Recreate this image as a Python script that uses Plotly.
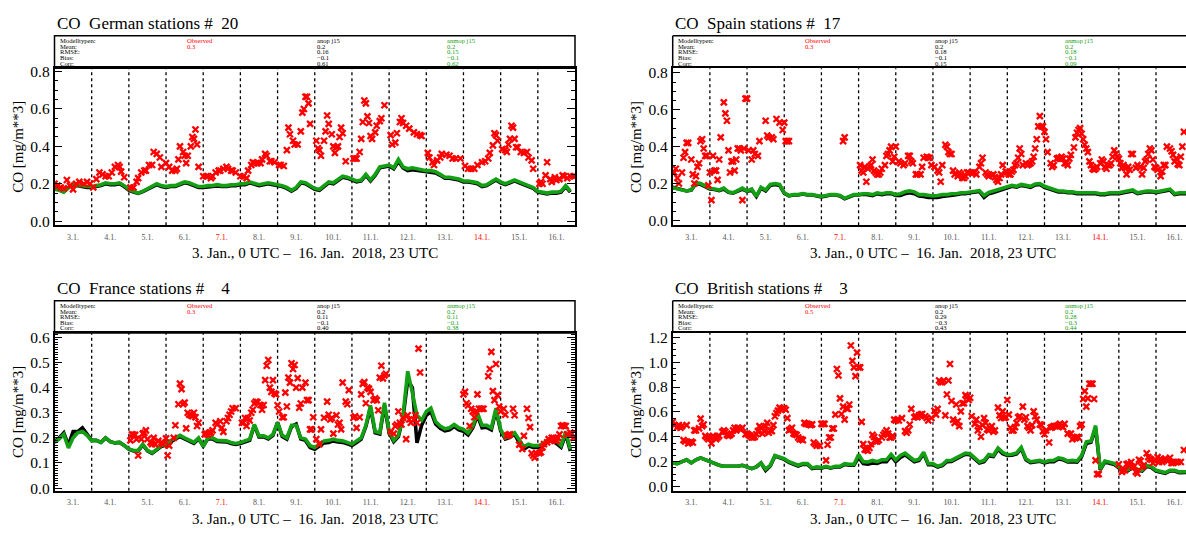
import plotly.graph_objects as go

W, H = 1186, 533
HOURS3 = list(range(0, 336, 3))
DAY_LABELS = [f"{d}.1." for d in range(3, 17)]
SUNDAY_LABELS = ["7.1.", "14.1."]
XTITLE = "3. Jan., 0 UTC \u2013\u00a0 16. Jan.\u00a0 2018, 23 UTC"
YTITLE = "CO [mg/m**3]"
STAT_ROWS = ["Modelltypen:", "Mean:", "RMSE:", "Bias:", "Corr:"]
MODEL_NAMES = ["Observed", "anop j15", "anmop j15"]

# ---------------- German stations ----------------
de_title = "CO\u00a0\u00a0German stations #\u00a0\u00a020"
de_stats_obs = ["0.3"]
de_stats_anop = ["0.2", "0.16", "\u22120.1", "0.61"]
de_stats_anmop = ["0.2", "0.15", "\u22120.1", "0.62"]
de_obs = [
    (0,0.20),(2,0.19),(4,0.18),(6,0.175),(8,0.22),(10,0.19),(12,0.17),(14,0.20),(16,0.21),(19,0.20),(21,0.21),(23,0.20),
    (25,0.18),(27,0.225),(29,0.26),(31,0.25),(33,0.24),(35,0.24),(37,0.26),(39,0.29),(41,0.30),(42,0.29),(43,0.265),(45,0.235),
    (49,0.18),(51,0.18),(53,0.21),(54,0.23),(56,0.26),(58,0.27),(59,0.27),(61,0.30),(63,0.30),(64,0.37),(66,0.36),(68,0.34),(69,0.29),
    (72,0.31),(74,0.29),(76,0.27),(78,0.27),(79,0.28),(80,0.33),(81,0.40),(83,0.37),(84,0.35),(85,0.31),(86,0.35),(88,0.40),(89,0.45),(90,0.44),(91,0.49),(92,0.41),(93,0.29),
    (96,0.24),(98,0.24),(99,0.24),(101,0.23),(102,0.24),(104,0.26),(106,0.27),(107,0.27),(109,0.28),(111,0.29),(112,0.28),(114,0.27),(115,0.27),(117,0.26),
    (120,0.24),(122,0.24),(124,0.23),(125,0.27),(127,0.30),(128,0.315),(129,0.31),(131,0.31),(133,0.31),(134,0.33),(136,0.36),(137,0.35),(139,0.32),(140,0.32),(142,0.315),
    (145,0.30),(146,0.30),(148,0.295),(150,0.38),(151,0.50),(152,0.465),(154,0.43),(155,0.41),(157,0.41),(159,0.48),(160,0.58),(161,0.60),(162,0.665),(163,0.665),(164,0.63),(165,0.52),
    (169,0.43),(170,0.39),(171,0.38),(172,0.35),(174,0.43),(175,0.48),(176,0.565),(177,0.52),(179,0.465),(180,0.40),(181,0.365),(182,0.395),(183,0.40),(184,0.45),(185,0.50),(186,0.47),(188,0.32),
    (193,0.335),(194,0.335),(195,0.335),(197,0.37),(198,0.44),(199,0.53),(200,0.645),(201,0.63),(202,0.56),(203,0.525),(204,0.455),(205,0.44),(207,0.475),(208,0.51),(210,0.535),(211,0.55),(213,0.62),
    (217,0.46),(218,0.41),(220,0.42),(221,0.47),(223,0.53),(224,0.55),(225,0.525),(227,0.51),(229,0.495),(232,0.475),(234,0.465),(236,0.46),(237,0.455),
    (241,0.365),(242,0.34),(244,0.315),(245,0.30),(247,0.325),(249,0.34),(250,0.36),(253,0.355),(255,0.35),(257,0.335),(259,0.335),(262,0.335),
    (265,0.295),(267,0.28),(269,0.28),(271,0.28),(273,0.30),(276,0.315),(278,0.32),(280,0.335),(281,0.365),(283,0.405),(284,0.47),(285,0.46),(286,0.43),
    (289,0.385),(291,0.38),(292,0.37),(293,0.41),(294,0.44),(295,0.51),(296,0.50),(297,0.44),(298,0.395),(299,0.395),(301,0.37),(303,0.365),(305,0.37),(306,0.34),(308,0.325),(309,0.28),
    (313,0.20),(314,0.21),(315,0.20),(317,0.245),(318,0.315),(320,0.225),(321,0.21),(323,0.235),(324,0.22),(326,0.225),(328,0.245),(329,0.24),(331,0.23),(333,0.24),(335,0.24),
]
de_anmop = [
    0.17, 0.165, 0.155, 0.18, 0.20, 0.19, 0.19, 0.185,
    0.185, 0.19, 0.195, 0.205, 0.20, 0.20, 0.205, 0.19,
    0.17, 0.16, 0.15, 0.16, 0.175, 0.19, 0.20, 0.19,
    0.185, 0.19, 0.19, 0.20, 0.21, 0.205, 0.195, 0.185,
    0.185, 0.19, 0.19, 0.195, 0.19, 0.19, 0.195, 0.195,
    0.20, 0.20, 0.21, 0.20, 0.195, 0.20, 0.205, 0.20,
    0.195, 0.19, 0.18, 0.165, 0.18, 0.21, 0.205, 0.19,
    0.175, 0.17, 0.19, 0.21, 0.205, 0.22, 0.24, 0.235,
    0.225, 0.215, 0.22, 0.25, 0.22, 0.25, 0.29, 0.295,
    0.30, 0.285, 0.33, 0.29, 0.28, 0.285, 0.28, 0.275,
    0.27, 0.27, 0.265, 0.25, 0.235, 0.235, 0.23, 0.225,
    0.215, 0.215, 0.21, 0.205, 0.19, 0.195, 0.21, 0.225,
    0.21, 0.20, 0.21, 0.22, 0.21, 0.20, 0.195, 0.18,
    0.16, 0.155, 0.15, 0.155, 0.155, 0.16, 0.19, 0.16,
]
de_anop = [
    0.18, 0.17, 0.16, 0.18, 0.195, 0.19, 0.185, 0.18,
    0.18, 0.185, 0.19, 0.20, 0.195, 0.195, 0.20, 0.185,
    0.165, 0.155, 0.148, 0.158, 0.17, 0.185, 0.195, 0.185,
    0.18, 0.185, 0.185, 0.195, 0.205, 0.20, 0.19, 0.18,
    0.18, 0.182, 0.183, 0.188, 0.185, 0.185, 0.19, 0.19,
    0.195, 0.195, 0.205, 0.195, 0.19, 0.195, 0.20, 0.195,
    0.19, 0.185, 0.175, 0.16, 0.175, 0.205, 0.20, 0.185,
    0.17, 0.165, 0.185, 0.205, 0.20, 0.215, 0.235, 0.23,
    0.22, 0.21, 0.215, 0.245, 0.215, 0.245, 0.285, 0.29,
    0.295, 0.28, 0.32, 0.285, 0.27, 0.275, 0.272, 0.268,
    0.265, 0.262, 0.258, 0.245, 0.23, 0.23, 0.225, 0.22,
    0.21, 0.21, 0.205, 0.20, 0.185, 0.19, 0.205, 0.22,
    0.205, 0.195, 0.205, 0.215, 0.205, 0.195, 0.19, 0.175,
    0.155, 0.15, 0.145, 0.15, 0.15, 0.155, 0.185, 0.155,
]

# ---------------- Spain stations ----------------
es_title = "CO\u00a0\u00a0Spain stations #\u00a0\u00a017"
es_stats_obs = ["0.3"]
es_stats_anop = ["0.2", "0.18", "\u22120.1", "0.15"]
es_stats_anmop = ["0.2", "0.18", "\u22120.1", "0.09"]
es_obs = [
    (1,0.26),(2,0.28),(3,0.23),(4,0.20),(6,0.26),(7,0.34),(8,0.37),(9,0.42),(10,0.42),(12,0.33),(13,0.25),(14,0.20),(15,0.24),(16,0.29),(17,0.31),(18,0.43),(19,0.44),(20,0.39),(21,0.35),(22,0.35),(23,0.19),
    (24,0.26),(25,0.11),(26,0.35),(27,0.27),(28,0.27),(29,0.22),(30,0.33),(31,0.45),(33,0.64),(34,0.58),(35,0.54),(36,0.38),(37,0.26),(38,0.32),(39,0.32),(40,0.27),(41,0.33),(42,0.39),(43,0.39),(44,0.38),(45,0.11),(46,0.39),(47,0.66),
    (48,0.66),(49,0.38),(51,0.33),(52,0.38),(53,0.36),(55,0.35),(56,0.43),(60,0.54),(61,0.46),(62,0.45),(64,0.45),(65,0.44),(67,0.55),(69,0.53),(71,0.49),
    (72,0.53),(73,0.43),(74,0.43),(75,0.43),
    (110,0.43),(111,0.45),
    (121,0.30),(122,0.27),(123,0.26),(124,0.29),(125,0.21),(126,0.28),(127,0.29),(128,0.30),(129,0.33),(130,0.27),(131,0.26),(132,0.25),(133,0.25),(134,0.26),(135,0.28),(137,0.30),(138,0.35),(139,0.36),(140,0.38),(141,0.40),(142,0.32),(143,0.345),
    (144,0.40),(146,0.32),(147,0.31),(149,0.30),(150,0.31),(152,0.35),(153,0.35),(154,0.32),(155,0.31),(157,0.25),(158,0.25),(160,0.25),(161,0.29),(162,0.34),(164,0.345),(165,0.34),(166,0.34),(167,0.30),
    (169,0.29),(171,0.27),(172,0.26),(173,0.21),(174,0.30),(176,0.41),(177,0.40),(178,0.37),(179,0.36),(180,0.36),(181,0.27),(182,0.25),(184,0.24),(185,0.26),(186,0.25),(187,0.23),(188,0.23),(189,0.24),(190,0.26),(191,0.26),
    (193,0.26),(194,0.26),(195,0.26),(196,0.25),(198,0.29),(199,0.31),(200,0.34),(202,0.26),(203,0.25),(204,0.24),(206,0.245),(207,0.25),(208,0.235),(209,0.22),(210,0.21),(211,0.23),(212,0.25),(213,0.30),(215,0.265),
    (216,0.26),(217,0.25),(218,0.25),(219,0.265),(220,0.275),(221,0.30),(222,0.31),(223,0.34),(224,0.39),(225,0.36),(226,0.30),(228,0.31),(229,0.30),(230,0.305),(231,0.31),(232,0.32),(233,0.345),(234,0.39),(235,0.44),(236,0.51),(237,0.565),(238,0.51),(239,0.51),
    (240,0.48),(241,0.44),(242,0.37),(244,0.31),(245,0.29),(246,0.30),(248,0.335),(249,0.34),(250,0.335),(251,0.345),(252,0.335),(253,0.31),(254,0.31),(255,0.30),(256,0.335),(257,0.355),(259,0.395),(260,0.45),(261,0.475),(262,0.49),(263,0.50),
    (264,0.47),(265,0.44),(266,0.41),(267,0.39),(268,0.37),(269,0.32),(270,0.30),(271,0.28),(272,0.275),(273,0.28),(274,0.29),(276,0.31),(277,0.33),(278,0.32),(279,0.29),(280,0.28),(281,0.30),(282,0.30),(283,0.31),(284,0.345),(285,0.38),(286,0.36),(287,0.345),
    (288,0.335),(289,0.31),(290,0.285),(291,0.30),(292,0.285),(293,0.25),(294,0.29),(295,0.275),(296,0.36),(297,0.36),(299,0.285),(300,0.30),(302,0.29),(303,0.25),(304,0.285),(305,0.32),(306,0.33),(307,0.36),(308,0.39),(309,0.38),(310,0.33),(311,0.29),
    (312,0.285),(313,0.275),(315,0.24),(316,0.265),(317,0.30),(318,0.30),(319,0.40),(321,0.39),(322,0.375),(323,0.355),(324,0.32),(325,0.335),(326,0.305),(327,0.30),(328,0.345),(329,0.40),(330,0.48),
]
es_anmop = [
    0.177, 0.17, 0.165, 0.16, 0.165, 0.205, 0.20, 0.185,
    0.175, 0.17, 0.165, 0.175, 0.155, 0.15, 0.165, 0.175,
    0.16, 0.17, 0.13, 0.18, 0.165, 0.195, 0.20, 0.195,
    0.15, 0.135, 0.14, 0.14, 0.145, 0.14, 0.14, 0.135,
    0.13, 0.135, 0.14, 0.14, 0.135, 0.12, 0.13, 0.14,
    0.14, 0.145, 0.145, 0.14, 0.15, 0.145, 0.15, 0.15,
    0.14, 0.145, 0.155, 0.16, 0.155, 0.14, 0.14, 0.135,
    0.133, 0.135, 0.14, 0.14, 0.145, 0.145, 0.15, 0.15,
    0.155, 0.16, 0.162, 0.135, 0.152, 0.16, 0.168, 0.172,
    0.18, 0.19, 0.185, 0.195, 0.19, 0.185, 0.198, 0.20,
    0.185, 0.175, 0.165, 0.16, 0.16, 0.155, 0.155, 0.15,
    0.15, 0.15, 0.148, 0.15, 0.145, 0.145, 0.15, 0.15,
    0.15, 0.155, 0.16, 0.165, 0.15, 0.155, 0.16, 0.16,
    0.155, 0.16, 0.165, 0.17, 0.145, 0.15, 0.15, 0.15,
]
es_anop = [
    0.18, 0.172, 0.165, 0.16, 0.165, 0.20, 0.195, 0.18,
    0.17, 0.168, 0.162, 0.17, 0.152, 0.148, 0.16, 0.17,
    0.158, 0.165, 0.13, 0.175, 0.16, 0.19, 0.195, 0.19,
    0.148, 0.133, 0.138, 0.138, 0.143, 0.138, 0.138, 0.133,
    0.128, 0.133, 0.138, 0.138, 0.133, 0.118, 0.128, 0.138,
    0.138, 0.142, 0.14, 0.135, 0.145, 0.14, 0.145, 0.145,
    0.135, 0.135, 0.145, 0.15, 0.145, 0.132, 0.13, 0.125,
    0.125, 0.125, 0.13, 0.132, 0.138, 0.14, 0.145, 0.145,
    0.15, 0.155, 0.157, 0.125, 0.145, 0.152, 0.16, 0.165,
    0.175, 0.185, 0.18, 0.19, 0.185, 0.18, 0.193, 0.195,
    0.18, 0.17, 0.16, 0.155, 0.155, 0.15, 0.15, 0.145,
    0.145, 0.145, 0.143, 0.145, 0.14, 0.14, 0.145, 0.145,
    0.145, 0.15, 0.155, 0.16, 0.145, 0.15, 0.155, 0.155,
    0.15, 0.155, 0.16, 0.165, 0.14, 0.145, 0.145, 0.145,
]

# ---------------- France stations ----------------
fr_title = "CO\u00a0\u00a0France stations #\u00a0\u00a0\u00a0\u00a04"
fr_stats_obs = ["0.3"]
fr_stats_anop = ["0.2", "0.11", "\u22120.1", "0.40"]
fr_stats_anmop = ["0.2", "0.11", "\u22120.1", "0.38"]
fr_obs = [
    (49,0.19),(50,0.214),(51,0.212),(52,0.212),(53,0.195),(54,0.13),(56,0.195),(57,0.217),(58,0.22),(59,0.23),(60,0.195),(62,0.182),(63,0.175),(64,0.20),(65,0.175),(67,0.188),(69,0.182),(70,0.175),
    (72,0.198),(73,0.13),(74,0.169),(77,0.20),(78,0.25),(80,0.334),(81,0.416),(82,0.394),(83,0.334),(84,0.34),(85,0.238),(86,0.30),(87,0.292),(88,0.29),(89,0.286),(90,0.30),(91,0.282),(92,0.247),(93,0.26),
    (97,0.214),(98,0.216),(99,0.214),(100,0.221),(101,0.221),(102,0.23),(104,0.26),(105,0.253),(107,0.266),(108,0.24),(109,0.224),(111,0.266),(112,0.279),(113,0.292),(114,0.305),(115,0.318),(117,0.318),
    (121,0.26),(122,0.26),(123,0.279),(124,0.247),(125,0.279),(126,0.269),(127,0.30),(128,0.312),(129,0.337),(130,0.344),(131,0.342),(133,0.331),(134,0.312),(135,0.331),(136,0.43),(137,0.487),(138,0.51),(139,0.40),(140,0.383),(141,0.43),(142,0.377),(143,0.373),
    (144,0.33),(145,0.305),(147,0.282),(148,0.282),(149,0.38),(150,0.325),(151,0.44),(152,0.42),(153,0.497),(154,0.474),(155,0.49),(156,0.40),(157,0.438),(158,0.32),(159,0.337),(160,0.40),(162,0.42),(163,0.35),(164,0.35),(165,0.234),(166,0.234),(167,0.282),
    (169,0.195),(171,0.175),(172,0.234),(174,0.28),(176,0.344),(177,0.292),(178,0.273),(179,0.279),(180,0.217),(182,0.29),(183,0.253),(184,0.26),(185,0.234),(186,0.42),(188,0.344),(189,0.334),(190,0.39),
    (193,0.28),(194,0.286),(195,0.24),(197,0.282),(198,0.373),(199,0.415),(200,0.422),(201,0.338),(202,0.40),(203,0.395),(204,0.383),(206,0.35),(207,0.357),(208,0.35),(209,0.31),(210,0.44),(211,0.487),(212,0.437),(213,0.448),(214,0.455),
    (217,0.225),(219,0.217),(220,0.246),(221,0.253),(222,0.305),(223,0.26),(224,0.253),(225,0.28),(227,0.195),(228,0.29),(229,0.273),(230,0.26),(232,0.273),(233,0.29),(234,0.26),(235,0.555),(236,0.46),
    (264,0.373),(265,0.383),(266,0.338),(267,0.329),(268,0.247),(269,0.316),(270,0.305),(271,0.282),(272,0.305),(273,0.373),(274,0.316),(275,0.316),(276,0.316),(277,0.316),(280,0.445),(281,0.474),(282,0.542),(283,0.386),(284,0.35),(285,0.494),(286,0.37),(287,0.325),
    (288,0.305),(290,0.316),(291,0.292),(292,0.208),(293,0.212),(294,0.214),(296,0.316),(297,0.29),(300,0.173),(302,0.156),(303,0.208),(305,0.316),(306,0.279),(307,0.243),(308,0.139),(309,0.13),(310,0.121),(311,0.139),
    (313,0.139),(314,0.143),(315,0.162),(316,0.175),(318,0.182),(319,0.195),(320,0.188),(321,0.20),(322,0.20),(323,0.195),(324,0.188),(325,0.20),(326,0.214),(327,0.247),(328,0.25),(329,0.247),(330,0.247),(331,0.214),(333,0.221),(334,0.217),(335,0.20),
]
fr_anmop = [
    0.182, 0.195, 0.214, 0.16, 0.20, 0.22, 0.225, 0.21,
    0.188, 0.19, 0.182, 0.20, 0.185, 0.18, 0.182, 0.17,
    0.156, 0.15, 0.15, 0.175, 0.15, 0.14, 0.156, 0.169,
    0.175, 0.19, 0.20, 0.21, 0.20, 0.19, 0.182, 0.20,
    0.165, 0.20, 0.20, 0.19, 0.19, 0.188, 0.182, 0.178,
    0.182, 0.188, 0.195, 0.253, 0.208, 0.208, 0.20, 0.214,
    0.26, 0.21, 0.20, 0.25, 0.25, 0.20, 0.195, 0.169,
    0.162, 0.175, 0.188, 0.19, 0.195, 0.19, 0.188, 0.182,
    0.175, 0.188, 0.20, 0.25, 0.33, 0.225, 0.22, 0.34,
    0.227, 0.19, 0.21, 0.29, 0.465, 0.38, 0.29, 0.27,
    0.305, 0.318, 0.265, 0.247, 0.236, 0.24, 0.253, 0.24,
    0.234, 0.22, 0.247, 0.30, 0.25, 0.25, 0.24, 0.318,
    0.234, 0.20, 0.208, 0.22, 0.19, 0.165, 0.175, 0.169,
    0.169, 0.175, 0.19, 0.20, 0.188, 0.17, 0.225, 0.155,
]
fr_anop = [
    0.185, 0.20, 0.22, 0.17, 0.225, 0.225, 0.24, 0.215,
    0.19, 0.19, 0.182, 0.20, 0.185, 0.18, 0.182, 0.17,
    0.155, 0.148, 0.148, 0.172, 0.148, 0.138, 0.153, 0.166,
    0.172, 0.186, 0.196, 0.205, 0.196, 0.186, 0.178, 0.196,
    0.168, 0.196, 0.196, 0.186, 0.186, 0.184, 0.178, 0.174,
    0.178, 0.184, 0.19, 0.25, 0.204, 0.204, 0.196, 0.21,
    0.262, 0.205, 0.195, 0.245, 0.255, 0.195, 0.19, 0.162,
    0.155, 0.168, 0.18, 0.182, 0.188, 0.184, 0.182, 0.176,
    0.17, 0.182, 0.195, 0.245, 0.32, 0.22, 0.215, 0.33,
    0.22, 0.185, 0.205, 0.28, 0.43, 0.40, 0.18, 0.25,
    0.29, 0.305, 0.255, 0.238, 0.228, 0.232, 0.245, 0.232,
    0.226, 0.212, 0.24, 0.29, 0.24, 0.242, 0.232, 0.31,
    0.228, 0.195, 0.202, 0.215, 0.18, 0.155, 0.168, 0.162,
    0.162, 0.168, 0.183, 0.193, 0.18, 0.163, 0.215, 0.148,
]

# ---------------- British stations ----------------
gb_title = "CO\u00a0\u00a0British stations #\u00a0\u00a0\u00a0\u00a03"
gb_stats_obs = ["0.5"]
gb_stats_anop = ["0.2", "0.29", "\u22120.3", "0.43"]
gb_stats_anmop = ["0.2", "0.28", "\u22120.3", "0.44"]
gb_obs = [
    (0,0.52),(1,0.494),(3,0.478),(4,0.494),(5,0.473),(6,0.486),(7,0.373),(8,0.362),(9,0.494),(10,0.347),(11,0.354),(12,0.362),(13,0.354),(14,0.452),(15,0.452),(17,0.468),(18,0.546),(19,0.486),(20,0.499),(21,0.407),(22,0.394),(23,0.381),
    (24,0.394),(25,0.347),(26,0.407),(27,0.394),(28,0.381),(29,0.394),(30,0.407),(32,0.441),(33,0.452),(34,0.441),(35,0.415),(36,0.407),(37,0.415),(38,0.425),(39,0.452),(40,0.473),(41,0.452),(42,0.473),(43,0.467),(44,0.46),(45,0.473),(47,0.42),
    (48,0.425),(49,0.415),(50,0.407),(51,0.394),(52,0.394),(53,0.399),(54,0.42),(55,0.446),(56,0.486),(57,0.473),(58,0.425),(59,0.446),(60,0.486),(61,0.512),(62,0.433),(63,0.452),(64,0.446),(65,0.494),(66,0.565),(67,0.59),(68,0.61),(69,0.635),(70,0.617),(71,0.63),
    (72,0.63),(73,0.617),(74,0.55),(75,0.452),(76,0.46),(77,0.473),(78,0.425),(79,0.42),(80,0.415),(81,0.394),(82,0.38),(83,0.38),(84,0.373),(85,0.512),(86,0.504),(87,0.504),(88,0.499),(89,0.494),(90,0.50),(91,0.354),(92,0.341),(93,0.328),(95,0.328),
    (96,0.504),(97,0.504),(98,0.504),(99,0.21),(100,0.336),(101,0.394),(102,0.394),(103,0.467),(104,0.467),(105,0.578),(106,0.945),(107,0.893),(108,0.709),(109,0.583),(110,0.643),(111,0.538),(112,0.63),(113,0.625),(114,0.66),(115,1.134),(116,1.011),(117,0.958),(118,0.888),(119,1.077),
    (120,0.958),(121,0.958),(122,0.52),(123,0.341),(124,0.297),(125,0.294),(126,0.289),(127,0.31),(128,0.341),(129,0.415),(130,0.399),(131,0.362),(132,0.362),(133,0.373),(135,0.394),(136,0.415),(137,0.433),(138,0.452),(139,0.425),(140,0.394),(141,0.394),(142,0.407),(143,0.538),
    (144,0.531),(145,0.538),(146,0.531),(148,0.55),(150,0.446),(151,0.433),(152,0.452),(153,0.499),(154,0.625),(156,0.557),(157,0.565),(158,0.557),(159,0.572),(160,0.578),(161,0.583),(163,0.565),(164,0.551),(165,0.531),(167,0.551),
    (169,0.609),(170,0.578),(171,0.625),(172,0.853),(173,0.84),(174,0.84),(175,0.853),(176,0.572),(177,0.74),(178,0.853),(179,0.985),(180,0.688),(181,0.538),(182,0.512),(183,0.66),(184,0.525),(185,0.486),(186,0.604),(187,0.67),(188,0.67),(189,0.735),(190,0.722),(191,0.696),
    (192,0.714),(193,0.565),(195,0.504),(196,0.538),(197,0.452),(198,0.478),(199,0.40),(200,0.494),(201,0.55),(202,0.512),(203,0.46),(204,0.452),(205,0.468),(206,0.486),(207,0.441),(208,0.452),(210,0.635),(211,0.572),(212,0.551),(213,0.604),(214,0.551),(215,0.557),
    (216,0.696),(217,0.578),(218,0.473),(219,0.452),(220,0.452),(221,0.478),(222,0.512),(223,0.557),(224,0.565),(226,0.643),(227,0.538),(228,0.557),(229,0.486),(230,0.473),(231,0.452),(232,0.494),(233,0.604),(234,0.565),(235,0.538),(237,0.499),(238,0.494),(239,0.446),
    (240,0.42),(241,0.452),(243,0.354),(244,0.473),(245,0.478),(246,0.486),(247,0.486),(248,0.486),(249,0.494),(250,0.504),(251,0.486),(252,0.478),(253,0.504),(255,0.425),(257,0.425),(258,0.38),(259,0.394),(260,0.389),(261,0.399),(262,0.394),(263,0.486),
    (264,0.499),(265,0.704),(266,0.767),(267,0.643),(268,0.709),(269,0.827),(270,0.827),(271,0.827),(272,0.704),(273,0.21),(274,0.10),(275,0.10),
    (288,0.179),(290,0.118),(291,0.131),(292,0.131),(293,0.179),(294,0.184),(295,0.171),(296,0.197),(297,0.158),(298,0.163),(299,0.118),(300,0.105),(301,0.215),(302,0.205),(303,0.158),(304,0.171),(306,0.268),(307,0.236),(308,0.223),(309,0.215),(310,0.189),(311,0.21),
    (313,0.236),(314,0.197),(315,0.223),(316,0.197),(317,0.215),(318,0.223),(319,0.21),(320,0.21),(321,0.231),(322,0.189),(323,0.189),(324,0.197),(325,0.197),(326,0.197),(328,0.197),(330,0.294),
]
gb_anmop = [
    0.19, 0.184, 0.20, 0.215, 0.19, 0.215, 0.23, 0.215,
    0.197, 0.189, 0.171, 0.163, 0.163, 0.158, 0.163, 0.171,
    0.158, 0.144, 0.158, 0.189, 0.14, 0.171, 0.25, 0.236,
    0.224, 0.20, 0.184, 0.171, 0.184, 0.184, 0.15, 0.158,
    0.152, 0.163, 0.152, 0.163, 0.163, 0.184, 0.178, 0.178,
    0.257, 0.20, 0.197, 0.21, 0.20, 0.215, 0.215, 0.26,
    0.215, 0.25, 0.268, 0.236, 0.21, 0.22, 0.276, 0.184,
    0.184, 0.163, 0.175, 0.21, 0.21, 0.23, 0.25, 0.268,
    0.263, 0.23, 0.197, 0.21, 0.257, 0.25, 0.31, 0.275,
    0.257, 0.26, 0.27, 0.315, 0.223, 0.20, 0.205, 0.21,
    0.197, 0.21, 0.21, 0.231, 0.223, 0.205, 0.21, 0.205,
    0.25, 0.36, 0.365, 0.49, 0.14, 0.205, 0.195, 0.185,
    0.158, 0.14, 0.136, 0.158, 0.14, 0.131, 0.17, 0.16,
    0.131, 0.118, 0.112, 0.131, 0.131, 0.118, 0.118, 0.12,
]
gb_anop = [
    0.19, 0.184, 0.20, 0.215, 0.19, 0.215, 0.23, 0.215,
    0.197, 0.189, 0.171, 0.163, 0.163, 0.158, 0.163, 0.171,
    0.158, 0.144, 0.158, 0.189, 0.13, 0.165, 0.245, 0.23,
    0.218, 0.195, 0.178, 0.165, 0.178, 0.178, 0.145, 0.152,
    0.148, 0.158, 0.148, 0.158, 0.158, 0.178, 0.172, 0.172,
    0.235, 0.185, 0.18, 0.19, 0.185, 0.20, 0.20, 0.245,
    0.20, 0.235, 0.255, 0.225, 0.20, 0.21, 0.265, 0.175,
    0.176, 0.156, 0.168, 0.20, 0.202, 0.222, 0.242, 0.26,
    0.255, 0.222, 0.19, 0.20, 0.248, 0.242, 0.30, 0.265,
    0.25, 0.252, 0.262, 0.305, 0.215, 0.193, 0.197, 0.203,
    0.19, 0.20, 0.20, 0.222, 0.215, 0.198, 0.20, 0.197,
    0.24, 0.345, 0.355, 0.47, 0.135, 0.198, 0.188, 0.178,
    0.15, 0.133, 0.13, 0.15, 0.133, 0.125, 0.162, 0.152,
    0.125, 0.112, 0.106, 0.125, 0.125, 0.112, 0.112, 0.114,
]

for arr in (de_anop, de_anmop, es_anop, es_anmop, fr_anop, fr_anmop, gb_anop, gb_anmop):
    assert len(arr) == len(HOURS3), len(arr)

# ---------------- layout geometry (pixels) ----------------
PX_PER_HOUR = (575.0 - 54.5) / 336.0
panels = [
    dict(title=de_title, obs=de_obs, anop=de_anop, anmop=de_anmop,
         s_obs=de_stats_obs, s_anop=de_stats_anop, s_anmop=de_stats_anmop,
         left=54.5, right=575.0, top=64.5, bottom=225.0, yr=[-0.0225, 0.818], dtick=0.2, minor=0.05),
    dict(title=es_title, obs=es_obs, anop=es_anop, anmop=es_anmop,
         s_obs=es_stats_obs, s_anop=es_stats_anop, s_anmop=es_stats_anmop,
         left=672.7, right=1186.0, top=64.5, bottom=225.0, yr=[-0.0265, 0.825], dtick=0.2, minor=0.05),
    dict(title=fr_title, obs=fr_obs, anop=fr_anop, anmop=fr_anmop,
         s_obs=fr_stats_obs, s_anop=fr_stats_anop, s_anmop=fr_stats_anmop,
         left=54.5, right=575.0, top=335.0, bottom=496.0, yr=[-0.0105, 0.617], dtick=0.1, minor=0.01),
    dict(title=gb_title, obs=gb_obs, anop=gb_anop, anmop=gb_anmop,
         s_obs=gb_stats_obs, s_anop=gb_stats_anop, s_anmop=gb_stats_anmop,
         left=672.7, right=1186.0, top=335.0, bottom=496.0, yr=[-0.034, 1.234], dtick=0.2, minor=0.05),
]

SERIF = "Liberation Serif"
GREEN = "#14a014"
RED = "#ff0000"


def fx(px):
    return px / W


def fy(py):
    return 1.0 - py / H


ticktext = [f'<span style="color:{RED}">{t}</span>' if t in SUNDAY_LABELS else t for t in DAY_LABELS]
tickvals = [12 + 24 * i for i in range(len(DAY_LABELS))]

fig = go.Figure()
annotations = []
shapes = []
layout_axes = {}

for k, p in enumerate(panels):
    sfx = "" if k == 0 else str(k + 1)
    xa, ya = "x" + sfx, "y" + sfx
    full_right = p["left"] + 336 * PX_PER_HOUR
    clipped = full_right > W
    xmax = (p["right"] - p["left"]) / PX_PER_HOUR

    fig.add_trace(go.Scatter(x=HOURS3, y=p["anop"], xaxis=xa, yaxis=ya, mode="lines",
                             line=dict(color="black", width=3.6), showlegend=False, hoverinfo="skip"))
    fig.add_trace(go.Scatter(x=HOURS3, y=p["anmop"], xaxis=xa, yaxis=ya, mode="lines",
                             line=dict(color=GREEN, width=3.6), showlegend=False, hoverinfo="skip"))
    fig.add_trace(go.Scatter(x=[h for h, v in p["obs"]], y=[v for h, v in p["obs"]], xaxis=xa, yaxis=ya,
                             mode="markers", showlegend=False, hoverinfo="skip",
                             marker=dict(symbol="x-thin", size=6, color=RED, line=dict(color=RED, width=2.3))))

    layout_axes["xaxis" + sfx] = dict(
        domain=[fx(p["left"]), fx(p["right"])], anchor=ya, range=[0, xmax],
        showline=True, linecolor="black", linewidth=1.5, mirror=True,
        ticks="", tickmode="array", tickvals=tickvals, ticktext=ticktext,
        tickfont=dict(family=SERIF, size=8, color="#555555"), ticklabelstandoff=3,
        showgrid=False, zeroline=False, fixedrange=True,
    )
    layout_axes["yaxis" + sfx] = dict(
        domain=[fy(p["bottom"]), fy(p["top"])], anchor=xa, range=p["yr"],
        showline=True, linecolor="black", linewidth=1.5, mirror=(False if clipped else "ticks"),
        ticks="inside", ticklen=8, tickwidth=1, tickcolor="black", tick0=0, dtick=p["dtick"],
        tickformat=".1f", tickfont=dict(family=SERIF, size=15.5, color="black"),
        minor=dict(ticks="inside", ticklen=4, tickwidth=1, tickcolor="black", tick0=0, dtick=p["minor"]),
        showgrid=False, zeroline=False, fixedrange=True,
    )

    # dotted day separators
    for d in range(1, 14):
        shapes.append(dict(type="line", xref=xa, yref=ya + " domain", x0=24 * d, x1=24 * d, y0=0, y1=1,
                           line=dict(color="black", width=1.3, dash="dot"), layer="below"))

    # statistics box
    box_top = p["top"] - 33.0
    if clipped:
        shapes.append(dict(type="line", xref="paper", yref="paper", x0=fx(p["left"]), x1=1.0,
                           y0=fy(box_top), y1=fy(box_top), line=dict(color="black", width=1.5)))
        shapes.append(dict(type="line", xref="paper", yref="paper", x0=fx(p["left"]), x1=fx(p["left"]),
                           y0=fy(box_top), y1=fy(p["top"]), line=dict(color="black", width=1.5)))
    else:
        shapes.append(dict(type="rect", xref="paper", yref="paper", x0=fx(p["left"]), x1=fx(full_right),
                           y0=fy(p["top"]), y1=fy(box_top), line=dict(color="black", width=1.5)))
    row_y = [box_top + 4.8, box_top + 10.6, box_top + 16.2, box_top + 22.0, box_top + 27.8]
    width_full = 336 * PX_PER_HOUR
    cols = [p["left"] + 3, p["left"] + 0.25 * width_full, p["left"] + 0.5 * width_full, p["left"] + 0.75 * width_full]
    col_entries = [
        (STAT_ROWS, "black"),
        ([MODEL_NAMES[0]] + p["s_obs"], RED),
        ([MODEL_NAMES[1]] + p["s_anop"], "black"),
        ([MODEL_NAMES[2]] + p["s_anmop"], GREEN),
    ]
    for cx, (texts, col) in zip(cols, col_entries):
        for ry, t in zip(row_y, texts):
            annotations.append(dict(text=t, x=fx(cx), y=fy(ry), xref="paper", yref="paper",
                                    xanchor="left", yanchor="middle", showarrow=False,
                                    font=dict(family=SERIF, size=6.6, color=col)))

    # title
    annotations.append(dict(text=p["title"], x=fx(p["left"]), y=fy(box_top - 13.0), xref="paper", yref="paper",
                            xanchor="left", yanchor="middle", showarrow=False,
                            font=dict(family=SERIF, size=17, color="black")))
    # x-axis title (centred on the full 14-day width)
    annotations.append(dict(text=XTITLE, x=fx(p["left"] + width_full / 2), y=fy(p["bottom"] + 28.5),
                            xref="paper", yref="paper", xanchor="center", yanchor="middle", showarrow=False,
                            font=dict(family=SERIF, size=15, color="black")))
    # y-axis title
    annotations.append(dict(text=YTITLE, x=fx(p["left"] - 36.5), y=fy((p["top"] + p["bottom"]) / 2),
                            xref="paper", yref="paper", xanchor="center", yanchor="middle", showarrow=False,
                            textangle=-90, font=dict(family=SERIF, size=15, color="black")))

fig.update_layout(
    width=W, height=H, margin=dict(l=0, r=0, t=0, b=0),
    paper_bgcolor="white", plot_bgcolor="white", showlegend=False,
    annotations=annotations, shapes=shapes, **layout_axes,
)

fig.write_html("out.html", config={"displayModeBar": False},
               post_script="document.body.style.margin='0';document.body.style.overflow='hidden';")
